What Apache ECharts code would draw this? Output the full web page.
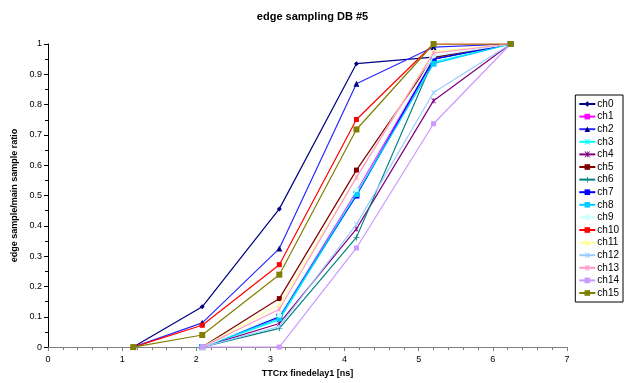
<!DOCTYPE html>
<html><head><meta charset="utf-8">
<script src="https://cdn.jsdelivr.net/npm/echarts@6/dist/echarts.min.js"></script>
<style>html,body{margin:0;padding:0;background:#fff}#c{width:625px;height:383px}</style>
</head><body><div id="c"></div>
<script>
var xValues = [1.15, 2.08, 3.12, 4.16, 5.2, 6.24];
var seriesNames = ['ch0','ch1','ch2','ch3','ch4','ch5','ch6','ch7','ch8','ch9','ch10','ch11','ch12','ch13','ch14','ch15'];
var ch0  = [0, 0.133, 0.456, 0.935, 0.957, 1];
var ch1  = [null, 0, 0.098, 0.515, 0.95, 1];
var ch2  = [0, 0.08, 0.325, 0.869, 0.99, 1];
var ch3  = [null, 0, 0.09, 0.50, 0.94, 1];
var ch4  = [null, 0, 0.078, 0.39, 0.813, 1];
var ch5  = [null, 0, 0.16, 0.584, 0.955, 1];
var ch6  = [null, 0, 0.062, 0.362, 0.95, 1];
var ch7  = [null, 0, 0.10, 0.50, 0.95, 1];
var ch8  = [null, 0, 0.095, 0.505, 0.935, 1];
var ch9  = [null, 0, 0.105, 0.52, 0.96, 1];
var ch10 = [0, 0.072, 0.272, 0.751, 1, 1];
var ch11 = [null, 0, 0.14, 0.56, 0.975, 1];
var ch12 = [null, 0, 0.068, 0.405, 0.84, 1];
var ch13 = [null, 0, 0.125, 0.56, 0.97, 1];
var ch14 = [null, 0, 0, 0.327, 0.737, 1];
var ch15 = [0, 0.04, 0.239, 0.718, 1, 1];
var allData = [ch0,ch1,ch2,ch3,ch4,ch5,ch6,ch7,ch8,ch9,ch10,ch11,ch12,ch13,ch14,ch15];

var X = 'path://M0,0L2,0L5,3L8,0L10,0L6,5L10,10L8,10L5,7L2,10L0,10L4,5Z';
var STAR = 'path://M0,0L2,0L4.3,3V0H5.7V3L8,0L10,0L6,5L10,10L8,10L5.7,7V10H4.3V7L2,10L0,10L4,5Z';
var PLUS = 'path://M4.3,0H5.7V4.3H10V5.7H5.7V10H4.3V5.7H0V4.3H4.3Z';
var DASH = 'path://M0,4H10V6H0Z';
var styles = [
  {line:'#000080', mark:'#000080', sym:'diamond', size:5},
  {line:'#FF00FF', mark:'#FF00FF', sym:'rect', size:5},
  {line:'#2a2aff', mark:'#000080', sym:'triangle', size:6},
  {line:'#00FFFF', mark:'#00FFFF', sym:X, size:5},
  {line:'#800080', mark:'#800080', sym:STAR, size:5},
  {line:'#800000', mark:'#800000', sym:'rect', size:5},
  {line:'#008080', mark:'#008080', sym:PLUS, size:6},
  {line:'#0000FF', mark:'#0000FF', sym:DASH, size:6},
  {line:'#00CCFF', mark:'#00CCFF', sym:DASH, size:6},
  {line:'#CCFFFF', mark:'#CCFFFF', sym:'circle', size:5},
  {line:'#FF0000', mark:'#FF0000', sym:'rect', size:5},
  {line:'#FFFF99', mark:'#FFFF99', sym:'triangle', size:6},
  {line:'#99CCFF', mark:'#99CCFF', sym:X, size:5},
  {line:'#FF99CC', mark:'#FF99CC', sym:STAR, size:5},
  {line:'#CC99FF', mark:'#CC99FF', sym:'rect', size:5},
  {line:'#808000', mark:'#808000', sym:'rect', size:6}
];

var series = seriesNames.map(function(n, i){
  return {
    name: n, type: 'line',
    data: xValues.map(function(x, j){ return [x, allData[i][j]]; }),
    connectNulls: false,
    symbol: styles[i].sym, symbolSize: styles[i].size,
    showSymbol: true,
    lineStyle: {color: styles[i].line, width: 1.2},
    itemStyle: {color: styles[i].mark, borderWidth: 0},
    emphasis: {disabled: true},
    animation: false,
    z: 2 + i
  };
});

var chart = echarts.init(document.getElementById('c'), null, {renderer: 'canvas'});
chart.setOption({
  backgroundColor: '#fff',
  animation: false,
  title: {text: 'edge sampling DB #5', left: 'center', top: 6,
    textStyle: {fontFamily: 'Liberation Sans, Arial', fontSize: 11, fontWeight: 'bold', color: '#000'}},
  grid: {left: 48, right: 58, top: 44, bottom: 34},
  legend: {
    orient: 'vertical', right: 2, top: 95,
    data: seriesNames,
    borderColor: '#000', borderWidth: 1, padding: [4, 4, 4, 3],
    itemGap: 2.6, itemWidth: 16, itemHeight: 7,
    textStyle: {fontFamily: 'Liberation Sans, Arial', fontSize: 10, lineHeight: 10, color: '#000', padding: [0,0,0,-3]}
  },
  xAxis: {
    type: 'value', min: 0, max: 7, interval: 1,
    name: 'TTCrx finedelay1 [ns]', nameLocation: 'middle', nameGap: 20,
    nameTextStyle: {fontFamily: 'Liberation Sans, Arial', fontSize: 9, fontWeight: 'bold', color: '#000'},
    axisLine: {lineStyle: {color: '#808080', width: 1}},
    axisTick: {show: true, length: 4, lineStyle: {color: '#808080'}},
    minorTick: {show: true, splitNumber: 5, length: 3, lineStyle: {color: '#808080'}},
    axisLabel: {fontFamily: 'Liberation Sans, Arial', fontSize: 9, color: '#000', margin: 8},
    splitLine: {show: false}
  },
  yAxis: {
    type: 'value', min: 0, max: 1, interval: 0.1,
    name: 'edge sample/main sample ratio', nameLocation: 'middle', nameGap: 27,
    nameTextStyle: {fontFamily: 'Liberation Sans, Arial', fontSize: 9, fontWeight: 'bold', color: '#000'},
    axisLine: {show: true, lineStyle: {color: '#000', width: 1}},
    axisTick: {show: true, length: 4, lineStyle: {color: '#000'}},
    minorTick: {show: true, splitNumber: 2, length: 3, lineStyle: {color: '#000'}},
    axisLabel: {fontFamily: 'Liberation Sans, Arial', fontSize: 9, color: '#000', margin: 6,
      formatter: function(v){ return String(Math.round(v*10)/10); }},
    splitLine: {show: false}
  },
  series: series
});
</script></body></html>
